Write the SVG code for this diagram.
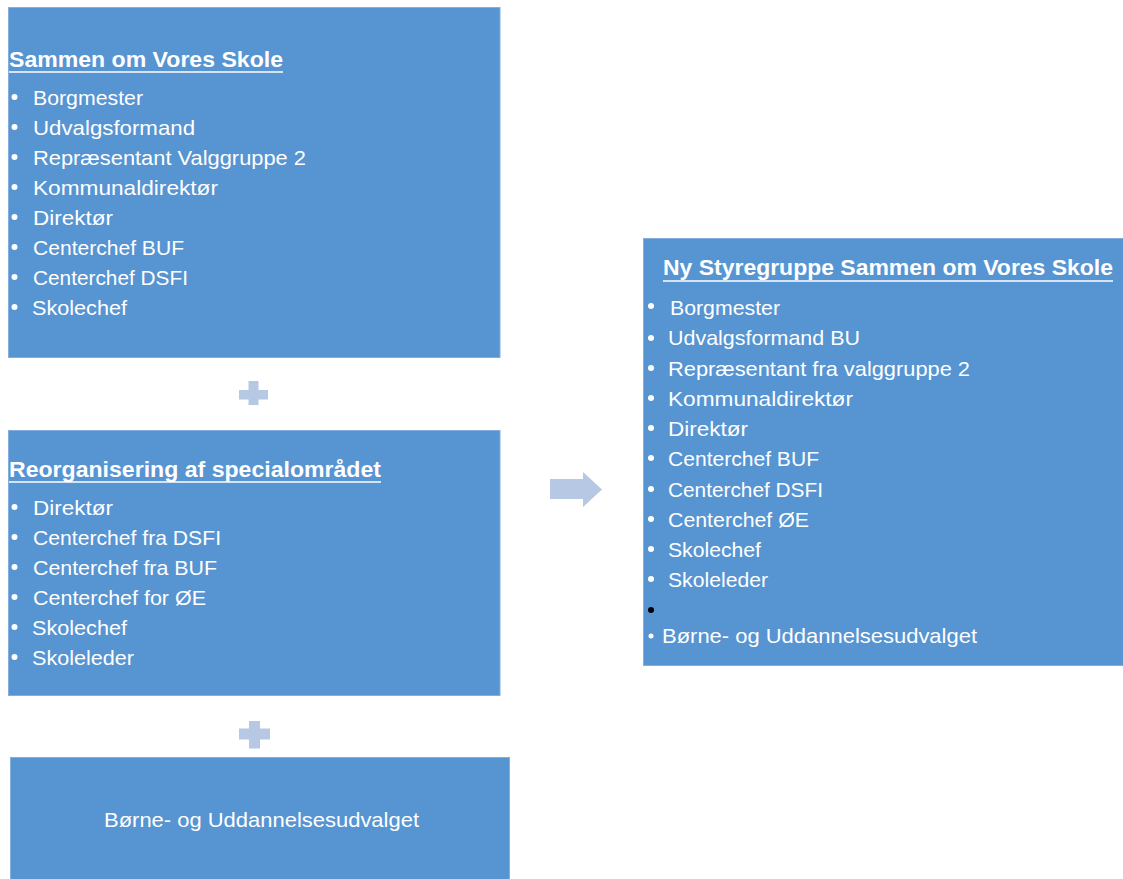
<svg xmlns="http://www.w3.org/2000/svg" width="1123" height="879" viewBox="0 0 1123 879">
<style>
.box{fill:#5694D2;stroke:#86AEDD;stroke-width:1}
.t{font-family:"Liberation Sans",Arial,sans-serif;fill:#FFFFFF;font-size:21px}
.h{font-family:"Liberation Sans",Arial,sans-serif;fill:#FFFFFF;font-size:22px;font-weight:bold}
.ul{stroke:#FFFFFF;stroke-width:1.6}
.b{fill:#FFFFFF}
.op{fill:#B6C8E3}
</style>
<rect width="1123" height="879" fill="#FFFFFF"/>
<g id="node-sammen">
<rect class="box" x="8.5" y="7.5" width="491.5" height="350"/>
<text class="h" x="9" y="67" textLength="274" lengthAdjust="spacingAndGlyphs">Sammen om Vores Skole</text>
<line class="ul" x1="9" y1="72" x2="283" y2="72"/>
<circle class="b" cx="14.5" cy="97" r="3"/><text class="t" x="33" y="105" textLength="110" lengthAdjust="spacingAndGlyphs">Borgmester</text>
<circle class="b" cx="14.5" cy="127" r="3"/><text class="t" x="33" y="135" textLength="162" lengthAdjust="spacingAndGlyphs">Udvalgsformand</text>
<circle class="b" cx="14.5" cy="157" r="3"/><text class="t" x="33" y="165" textLength="273" lengthAdjust="spacingAndGlyphs">Repræsentant Valggruppe 2</text>
<circle class="b" cx="14.5" cy="187" r="3"/><text class="t" x="33" y="195" textLength="185" lengthAdjust="spacingAndGlyphs">Kommunaldirektør</text>
<circle class="b" cx="14.5" cy="217" r="3"/><text class="t" x="33" y="225" textLength="80" lengthAdjust="spacingAndGlyphs">Direktør</text>
<circle class="b" cx="14.5" cy="247" r="3"/><text class="t" x="33" y="255" textLength="151" lengthAdjust="spacingAndGlyphs">Centerchef  BUF</text>
<circle class="b" cx="14.5" cy="277" r="3"/><text class="t" x="33" y="285" textLength="155" lengthAdjust="spacingAndGlyphs">Centerchef  DSFI</text>
<circle class="b" cx="14.5" cy="307" r="3"/><text class="t" x="32" y="315" textLength="95" lengthAdjust="spacingAndGlyphs">Skolechef</text>
</g>
<g id="plus-1">
<rect class="op" x="239" y="390" width="29" height="9.5"/>
<rect class="op" x="248.5" y="381" width="10" height="24"/>
</g>
<g id="node-reorganisering">
<rect class="box" x="8.5" y="430.5" width="491.5" height="265"/>
<text class="h" x="9" y="477" textLength="372" lengthAdjust="spacingAndGlyphs">Reorganisering af specialområdet</text>
<line class="ul" x1="9" y1="482" x2="381" y2="482"/>
<circle class="b" cx="14.5" cy="507" r="3"/><text class="t" x="33" y="515" textLength="80" lengthAdjust="spacingAndGlyphs">Direktør</text>
<circle class="b" cx="14.5" cy="537" r="3"/><text class="t" x="33" y="545" textLength="188" lengthAdjust="spacingAndGlyphs">Centerchef  fra DSFI</text>
<circle class="b" cx="14.5" cy="567" r="3"/><text class="t" x="33" y="575" textLength="184" lengthAdjust="spacingAndGlyphs">Centerchef  fra BUF</text>
<circle class="b" cx="14.5" cy="597" r="3"/><text class="t" x="33" y="605" textLength="173" lengthAdjust="spacingAndGlyphs">Centerchef  for ØE</text>
<circle class="b" cx="14.5" cy="627" r="3"/><text class="t" x="32" y="635" textLength="95" lengthAdjust="spacingAndGlyphs">Skolechef</text>
<circle class="b" cx="14.5" cy="657" r="3"/><text class="t" x="32" y="665" textLength="102" lengthAdjust="spacingAndGlyphs">Skoleleder</text>
</g>
<g id="plus-2">
<rect class="op" x="239" y="728.5" width="31" height="11"/>
<rect class="op" x="249" y="721" width="11" height="27.5"/>
</g>
<g id="node-udvalget">
<rect class="box" x="10.5" y="757.5" width="499" height="130"/>
<text class="t" x="104" y="827" textLength="315" lengthAdjust="spacingAndGlyphs">Børne- og Uddannelsesudvalget</text>
</g>
<g id="connectors">
<polygon class="op" points="550,479 583,479 583,472 602,489.5 583,507 583,499 550,499"/>
</g>
<g id="node-ny-styregruppe">
<rect class="box" x="643.5" y="238.5" width="485" height="427"/>
<text class="h" x="663" y="275" textLength="450" lengthAdjust="spacingAndGlyphs">Ny Styregruppe Sammen om Vores Skole</text>
<line class="ul" x1="663" y1="281" x2="1113" y2="281"/>
<circle class="b" cx="651" cy="306" r="3"/><text class="t" x="670" y="315" textLength="110" lengthAdjust="spacingAndGlyphs">Borgmester</text>
<circle class="b" cx="651" cy="338" r="3"/><text class="t" x="668" y="345" textLength="192" lengthAdjust="spacingAndGlyphs">Udvalgsformand BU</text>
<circle class="b" cx="651" cy="368" r="3"/><text class="t" x="668" y="375.5" textLength="302" lengthAdjust="spacingAndGlyphs">Repræsentant fra valggruppe 2</text>
<circle class="b" cx="651" cy="398" r="3"/><text class="t" x="668" y="406" textLength="185" lengthAdjust="spacingAndGlyphs">Kommunaldirektør</text>
<circle class="b" cx="651" cy="428" r="3"/><text class="t" x="668" y="436" textLength="80" lengthAdjust="spacingAndGlyphs">Direktør</text>
<circle class="b" cx="651" cy="458" r="3"/><text class="t" x="668" y="466" textLength="151" lengthAdjust="spacingAndGlyphs">Centerchef  BUF</text>
<circle class="b" cx="651" cy="489" r="3"/><text class="t" x="668" y="496.5" textLength="155" lengthAdjust="spacingAndGlyphs">Centerchef  DSFI</text>
<circle class="b" cx="651" cy="519" r="3"/><text class="t" x="668" y="527" textLength="141" lengthAdjust="spacingAndGlyphs">Centerchef  ØE</text>
<circle class="b" cx="651" cy="549" r="3"/><text class="t" x="668" y="557" textLength="93" lengthAdjust="spacingAndGlyphs">Skolechef</text>
<circle class="b" cx="651" cy="579" r="3"/><text class="t" x="668" y="587" textLength="100" lengthAdjust="spacingAndGlyphs">Skoleleder</text>
<circle cx="651" cy="610" r="3" fill="#000000"/>
<circle class="b" cx="651" cy="636" r="2.5"/><text class="t" x="662" y="643" textLength="315" lengthAdjust="spacingAndGlyphs">Børne- og Uddannelsesudvalget</text>
</g>
</svg>
